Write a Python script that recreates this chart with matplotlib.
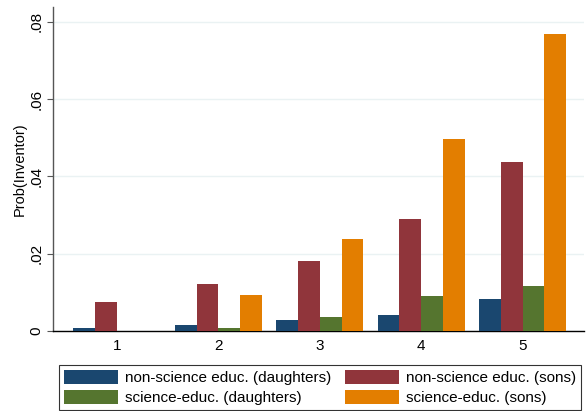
import matplotlib.pyplot as plt
import numpy as np

plt.rcParams['font.family'] = ['Liberation Sans', 'DejaVu Sans']

groups = [1, 2, 3, 4, 5]
nonsci_daughters = [0.0008, 0.0016, 0.0028, 0.0041, 0.0083]
nonsci_sons = [0.0075, 0.0122, 0.0181, 0.0290, 0.0438]
sci_daughters = [np.nan, 0.0008, 0.0036, 0.0091, 0.0117]
sci_sons = [np.nan, 0.0093, 0.0238, 0.0497, 0.0769]

series = [
    ('non-science educ. (daughters)', nonsci_daughters, '#1a476f'),
    ('non-science educ. (sons)', nonsci_sons, '#90353b'),
    ('science-educ. (daughters)', sci_daughters, '#55752f'),
    ('science-educ. (sons)', sci_sons, '#e37e00'),
]
yticks = [0, 0.02, 0.04, 0.06, 0.08]
ytick_labels = ['0', '.02', '.04', '.06', '.08']

fig = plt.figure(figsize=(5.86, 4.11), dpi=100)
ax = fig.add_axes([0.0904, 0.1946, 0.907, 0.789])

x = np.array(groups, dtype=float)
w = 0.215
offsets = [-1.5, -0.5, 0.5, 1.5]
handles = []
for (label, vals, col), off in zip(series, offsets):
    b = ax.bar(x + off * w, vals, width=w, color=col, label=label, zorder=3)
    handles.append(b)

ax.set_xlim(0.37, 5.61)
ax.set_ylim(0, 0.0839)
ax.set_xticks(groups)
ax.set_xticklabels([str(g) for g in groups], fontsize=11)
ax.tick_params(axis='x', length=0, pad=6)
ax.set_yticks(yticks)
ax.set_yticklabels(ytick_labels, rotation=90, va='center', fontsize=11)
ax.tick_params(axis='y', length=4, width=0.8, color='#555555', pad=3)
ax.grid(axis='y', color='#eaf2f3', linewidth=1, zorder=0)
ax.set_ylabel('Prob(Inventor)', fontsize=10.5, labelpad=2)

for s in ['top', 'right']:
    ax.spines[s].set_visible(False)
ax.spines['left'].set_color('#555555')
ax.spines['left'].set_linewidth(1.0)
ax.spines['bottom'].set_color('black')
ax.spines['bottom'].set_linewidth(1.0)

# legend is filled row by row in the original
order = [0, 2, 1, 3]
leg = fig.legend(handles=[handles[i] for i in order],
                 loc='lower left', ncol=2,
                 bbox_to_anchor=(59 / 586, 1 - 410 / 411),
                 fontsize=11, frameon=True, fancybox=False, edgecolor='black',
                 handlelength=3.55, handleheight=1.0, handletextpad=0.46,
                 borderpad=0.3, labelspacing=0.35, columnspacing=0.92,
                 borderaxespad=0)
leg.get_frame().set_linewidth(0.8)

fig.savefig('out.png', dpi=100)
